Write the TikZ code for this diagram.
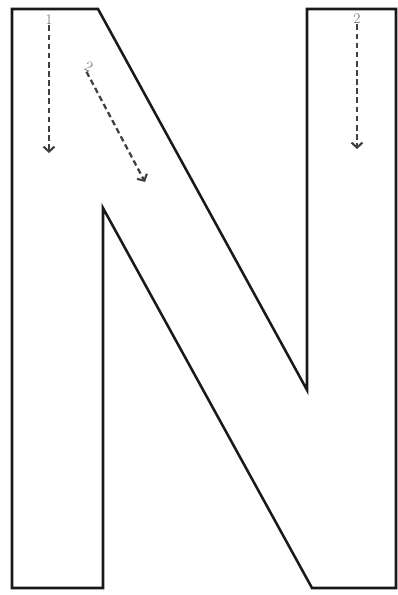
\documentclass[tikz,border=0pt]{standalone}
\usepackage{tikz}
\usetikzlibrary{arrows.meta}

\begin{document}
\begin{tikzpicture}[x=0.05cm,y=-0.05cm,
                    outline/.style={line width=3.6pt,black!90,line join=miter},
                    flow/.style={-{Straight Barb[length=0.25cm,width=0.55cm,line width=3pt]},
                                 black!75,line width=3.2pt,dash pattern=on 8pt off 5pt},
                    num/.style={inner sep=0.5pt,text=black!60,font=\fontsize{21}{21}\selectfont}]
  \useasboundingbox (0,0) rectangle (398,595);
  % letter outline
  \draw[outline] (12,9) -- (98,9) -- (307,390) -- (307,9) -- (396,9) -- (396,588)
      -- (312,588) -- (103,208) -- (103,588) -- (12,588) -- cycle;
  % flow arrows
  \node[num] (n1) at (49,20) {1};
  \coordinate (e1) at (49,153);
  \draw[flow] (n1.south) -- (e1);
  \node[num,rotate=-28] (n2) at (89,67) {2};
  \coordinate (e2) at (145,182);
  \draw[flow] (n2.south) -- (e2);
  \node[num] (n3) at (357,19) {2};
  \coordinate (e3) at (357,149);
  \draw[flow] (n3.south) -- (e3);
\end{tikzpicture}
\end{document}
